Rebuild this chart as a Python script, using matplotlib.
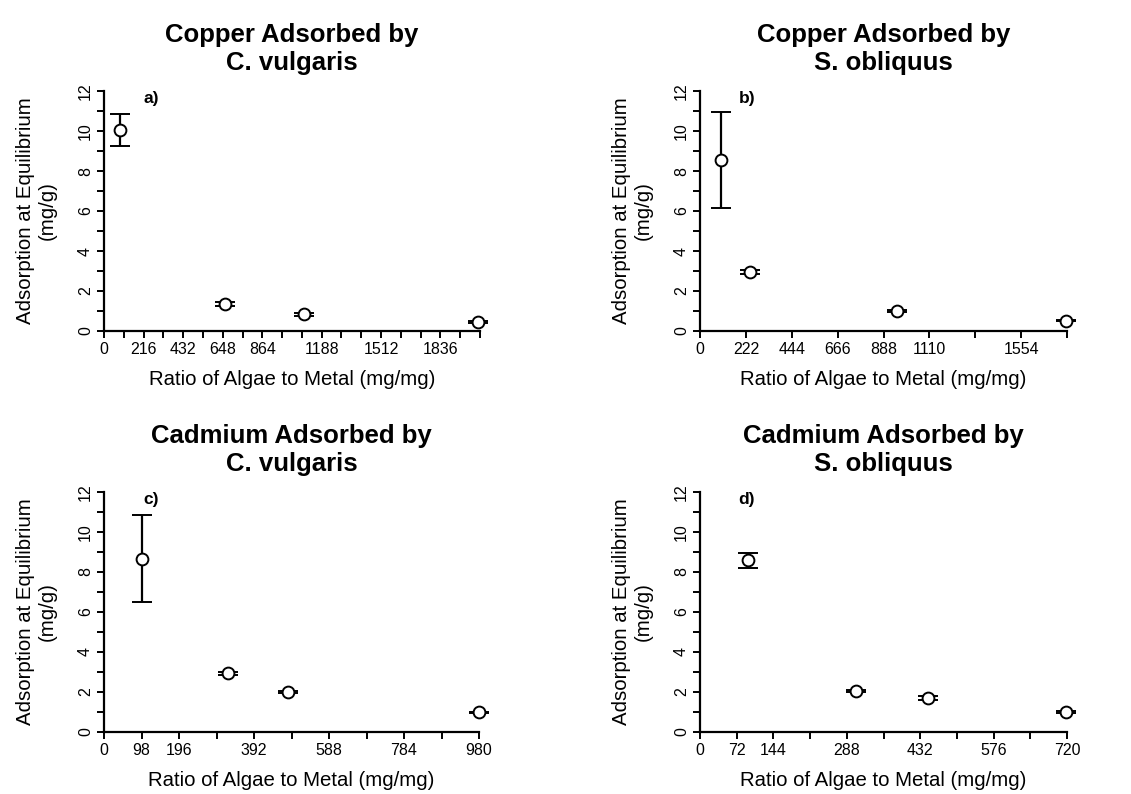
import numpy as np
import matplotlib.pyplot as plt

plt.rcParams['font.family'] = ['Liberation Sans', 'DejaVu Sans']

# panel a) copper, C. vulgaris
cu_cv_x = [86, 663, 1094, 2043]
cu_cv_y = [10.03, 1.33, 0.83, 0.43]
cu_cv_err = [0.8, 0.1, 0.08, 0.05]

# panel b) copper, S. obliquus
cu_so_x = [101, 241, 952, 1770]
cu_so_y = [8.55, 2.96, 1.0, 0.52]
cu_so_err = [2.42, 0.1, 0.05, 0.04]

# panel c) cadmium, C. vulgaris
cd_cv_x = [98, 325, 480, 980]
cd_cv_y = [8.67, 2.93, 2.0, 0.98]
cd_cv_err = [2.16, 0.06, 0.06, 0.04]

# panel d) cadmium, S. obliquus
cd_so_x = [94, 307, 447, 719]
cd_so_y = [8.59, 2.05, 1.68, 1.0]
cd_so_err = [0.37, 0.05, 0.1, 0.04]

panels = [
    ("Copper Adsorbed by\nC. vulgaris", "a)", cu_cv_x, cu_cv_y, cu_cv_err, 108, 2052,
     [0, 216, 432, 648, 864, 1188, 1512, 1836]),
    ("Copper Adsorbed by\nS. obliquus", "b)", cu_so_x, cu_so_y, cu_so_err, 222, 1776,
     [0, 222, 444, 666, 888, 1110, 1554]),
    ("Cadmium Adsorbed by\nC. vulgaris", "c)", cd_cv_x, cd_cv_y, cd_cv_err, 98, 980,
     [0, 98, 196, 392, 588, 784, 980]),
    ("Cadmium Adsorbed by\nS. obliquus", "d)", cd_so_x, cd_so_y, cd_so_err, 72, 720,
     [0, 72, 144, 288, 432, 576, 720]),
]

W, H = 1131, 794
fig = plt.figure(figsize=(W / 100, H / 100), dpi=100)

# axes boxes in pixels: left, top, right, bottom
boxes = [(104, 91, 480, 331), (700, 91, 1067, 331),
         (104, 492, 479, 732), (700, 492, 1067, 732)]

for (title, tag, x, y, err, step, xmax, labelled), (l, t, r, b) in zip(panels, boxes):
    ax = fig.add_axes([l / W, 1 - b / H, (r - l) / W, (b - t) / H])
    ax.errorbar(x, y, yerr=err, fmt='o', mfc='white', mec='black', ms=8.5, mew=1.4,
                ecolor='black', elinewidth=1.6, capsize=7, capthick=1.6, clip_on=False, zorder=3)
    ax.set_xlim(0, xmax)
    ax.set_ylim(0, 12)
    ticks = np.arange(0, xmax + 1, step)
    ax.set_xticks(ticks)
    ax.set_xticklabels([str(v) if v in labelled else '' for v in ticks])
    ax.set_yticks(range(0, 13, 2))
    ax.set_yticks(range(1, 12, 2), minor=True)
    for lab in ax.get_yticklabels():
        lab.set_rotation(90)
        lab.set_va('center')
    ax.tick_params(axis='both', direction='out', length=5, width=1.4, labelsize=11.5, pad=3)
    ax.tick_params(axis='y', which='minor', direction='out', length=5, width=1.4)
    for s in ['top', 'right']:
        ax.spines[s].set_visible(False)
    for s in ['left', 'bottom']:
        ax.spines[s].set_linewidth(1.6)
    ax.set_xlabel("Ratio of Algae to Metal (mg/mg)", fontsize=14.7, labelpad=9)
    ax.set_ylabel("Adsorption at Equilibrium\n(mg/g)", fontsize=14.7, labelpad=15)
    ax.set_title(title, fontsize=18.5, fontweight='bold', pad=15)
    ax.text(0.105, 1.0, tag, transform=ax.transAxes, fontsize=12.5, fontweight='bold',
            va='top', ha='left')

fig.savefig("out.png", dpi=100)
